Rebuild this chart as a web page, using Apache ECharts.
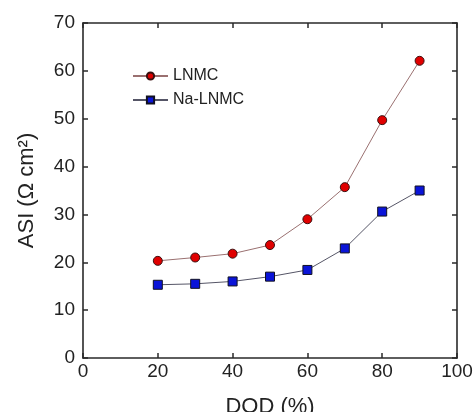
<!DOCTYPE html>
<html><head><meta charset="utf-8">
<script src="https://cdn.jsdelivr.net/npm/echarts@6/dist/echarts.min.js"></script>
<style>html,body{margin:0;padding:0;background:#fff}#c{width:475px;height:412px}</style>
</head><body><div id="c"></div>
<script>
var dod = [20, 30, 40, 50, 60, 70, 80, 90];
var lnmc = [20.3, 21.0, 21.8, 23.6, 29.0, 35.7, 49.7, 62.1];
var naLnmc = [15.3, 15.5, 16.0, 17.0, 18.4, 22.9, 30.6, 35.0];
var xTicks = [0, 20, 40, 60, 80, 100];
var yTicks = [0, 10, 20, 30, 40, 50, 60, 70];

var font = 'Liberation Sans, Arial, sans-serif';
var chart = echarts.init(document.getElementById('c'));
function pairs(xs, ys){ return xs.map(function(x,i){return [x, ys[i]];}); }
var axisLine = {onZero:false, lineStyle:{color:'#2a2a2a', width:1.6}};
var tick = {inside:true, length:5, lineStyle:{color:'#2a2a2a', width:1.5}};
chart.setOption({
  animation:false,
  grid:{left:83, right:18, top:23, bottom:54, outerBoundsMode:'none', containLabel:false},
  legend:{
    orient:'vertical', left:132, top:68, padding:0, itemGap:8, itemWidth:35, itemHeight:9,
    textStyle:{fontFamily:font, fontSize:16, color:'#222'},
    data:['LNMC','Na-LNMC']
  },
  xAxis:[{
    type:'value', min:xTicks[0], max:xTicks[xTicks.length-1], interval:20,
    name:'DOD (%)', nameLocation:'middle', nameGap:38,
    nameTextStyle:{fontFamily:font, fontSize:22, color:'#222'},
    axisLine:axisLine, axisTick:tick, splitLine:{show:false},
    axisLabel:{fontFamily:font, fontSize:19, color:'#222', margin:4}
  },{
    type:'value', position:'top', min:0, max:100, interval:20,
    axisLine:axisLine, axisTick:tick, splitLine:{show:false}, axisLabel:{show:false}
  }],
  yAxis:[{
    type:'value', min:yTicks[0], max:yTicks[yTicks.length-1], interval:10,
    name:'ASI (Ω cm²)', nameLocation:'middle', nameGap:45, nameRotate:90,
    nameTextStyle:{fontFamily:font, fontSize:22, color:'#222'},
    axisLine:axisLine, axisTick:tick, splitLine:{show:false},
    axisLabel:{fontFamily:font, fontSize:19, color:'#222', margin:8}
  },{
    type:'value', position:'right', min:0, max:70, interval:10,
    axisLine:axisLine, axisTick:tick, splitLine:{show:false}, axisLabel:{show:false}
  }],
  series:[{
    name:'LNMC', type:'line', data:pairs(dod, lnmc),
    symbol:'circle', symbolSize:9,
    lineStyle:{color:'#9a7070', width:1},
    itemStyle:{color:'#e00000', borderColor:'#3a1010', borderWidth:1}
  },{
    name:'Na-LNMC', type:'line', data:pairs(dod, naLnmc),
    symbol:'rect', symbolSize:9,
    lineStyle:{color:'#555566', width:1},
    itemStyle:{color:'#0a14d8', borderColor:'#101020', borderWidth:1}
  }]
});
</script></body></html>
